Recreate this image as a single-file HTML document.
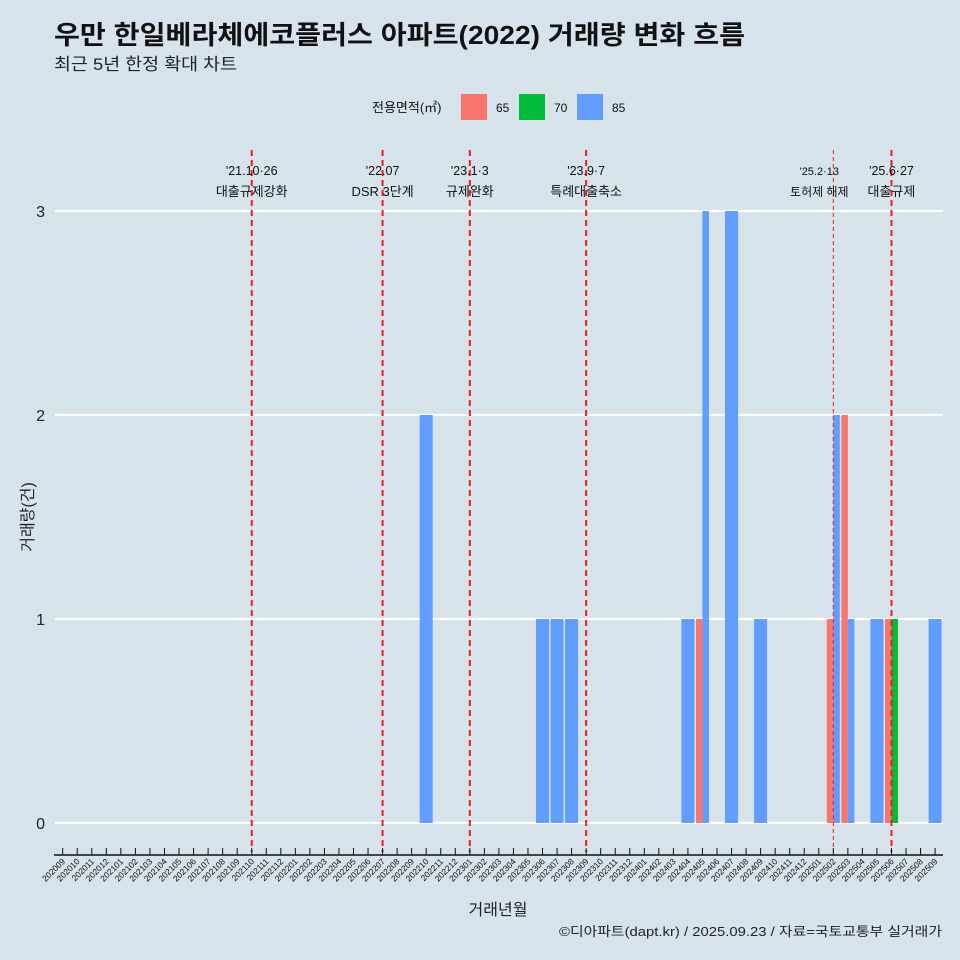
<!DOCTYPE html>
<html><head><meta charset="utf-8"><style>
body{margin:0;background:#d6e3ea;overflow:hidden;}
svg{display:block;}
svg text{font-family:"Liberation Sans","Noto Sans CJK KR",sans-serif;}
</style></head><body>
<svg id="chart" width="960" height="960" xmlns="http://www.w3.org/2000/svg">
<rect width="960" height="960" fill="#d6e3ea"/>
<text x="54" y="44" font-size="26" font-weight="bold" fill="#111" textLength="691" lengthAdjust="spacingAndGlyphs">우만 한일베라체에코플러스 아파트(2022) 거래량 변화 흐름</text>
<text x="54" y="70" font-size="17" fill="#222" textLength="183" lengthAdjust="spacingAndGlyphs">최근 5년 한정 확대 차트</text>
<g>
<text x="372" y="112" font-size="13" fill="#111">전용면적(㎡)</text>
<rect x="461" y="94" width="26" height="26" fill="#f8766d"/>
<text x="496" y="112" font-size="12" fill="#111">65</text>
<rect x="519" y="94" width="26" height="26" fill="#00ba38"/>
<text x="554" y="112" font-size="12" fill="#111">70</text>
<rect x="577" y="94" width="26" height="26" fill="#619cff"/>
<text x="612" y="112" font-size="12" fill="#111">85</text>
</g>
<g id="grid"></g><g id="bars"></g><g id="events"></g><g id="axis"></g>
<text x="0" y="0" transform="translate(33,517) rotate(-90)" text-anchor="middle" font-size="16" fill="#222">거래량(건)</text>
<text x="498" y="915" text-anchor="middle" font-size="16" fill="#222">거래년월</text>
<text x="559" y="936" font-size="13" fill="#222" textLength="383" lengthAdjust="spacingAndGlyphs">©디아파트(dapt.kr) / 2025.09.23 / 자료=국토교통부 실거래가</text>
</svg>
<script>
const months = [];
for (let y = 2020, m = 9; y * 100 + m <= 202509; m++) { if (m > 12) { m = 1; y++; } months.push(String(y * 100 + m)); }
const yTicks = [0, 1, 2, 3];
const series65 = {"202405":1,"202502":1,"202503":2,"202506":1};
const series70 = {"202506":1};
const series85 = {"202210":2,"202306":1,"202307":1,"202308":1,"202404":1,"202405":3,"202407":3,"202409":1,"202502":2,"202503":1,"202505":1,"202509":1};
const eventMonths = ["202110","202207","202301","202309","202502","202506"];
const eventLine1 = ["'21.10·26","'22.07","'23.1·3","'23.9·7","'25.2·13","'25.6·27"];
const eventLine2 = ["대출규제강화","DSR 3단계","규제완화","특례대출축소","토허제 해제","대출규제"];

const NS = "http://www.w3.org/2000/svg";
const x0 = 62.7, step = 14.54, yZero = 823, perUnit = 204;
const xs = m => x0 + months.indexOf(m) * step;
const ys = v => yZero - v * perUnit;
function mk(tag, attrs, parent) { const e = document.createElementNS(NS, tag); for (const k in attrs) e.setAttribute(k, attrs[k]); document.getElementById(parent).appendChild(e); return e; }

yTicks.forEach(t => {
  const l = mk("line", {x1:55, x2:943, y1:ys(t), y2:ys(t), stroke:"#fff", "stroke-width":2.2}, "grid");
  
  
  const tx = mk("text", {x:45, y:ys(t)+6, "text-anchor":"end", "font-size":16, fill:"#222"}, "grid");
  tx.textContent = t;
  
  
});

const bw = 13;
months.forEach(m => {
  const groups = [];
  if (series65[m]) groups.push([series65[m], "#f8766d", "65"]);
  if (series70[m]) groups.push([series70[m], "#00ba38", "70"]);
  if (series85[m]) groups.push([series85[m], "#619cff", "85"]);
  const w = bw / Math.max(groups.length, 1);
  groups.forEach((g, i) => {
    const left = xs(m) - bw / 2 + i * w;
    const r = mk("rect", {x:left, y:ys(g[0]), width:w, height:g[0]*perUnit, fill:g[1]}, "bars");
    
    
  });
});

eventMonths.forEach((m, i) => {
  const x = xs(m), thin = m === "202502";
  const l = mk("line", {x1:x, x2:x, y1:150, y2:852, stroke:"#ee1c1c", "stroke-width":thin?1:2, "stroke-dasharray":thin?"4,3":"6,4"}, "events");
  
  
  const fs = thin ? 11 : 12.5, dx = thin ? -14 : 0;
  const t1 = mk("text", {x:x+dx, y:175, "text-anchor":"middle", "font-size":fs, fill:"#111"}, "events");
  t1.textContent = eventLine1[i];
  
  
  const t2 = mk("text", {x:x+dx, y:196, "text-anchor":"middle", "font-size":thin?12:13, fill:"#111"}, "events");
  t2.textContent = eventLine2[i];
  
  
});

const ax = mk("line", {x1:54, x2:943, y1:855, y2:855, stroke:"#111", "stroke-width":1.5}, "axis");


months.forEach(m => {
  const x = xs(m);
  const tk = mk("line", {x1:x, x2:x, y1:848, y2:855, stroke:"#111", "stroke-width":1}, "axis");
  
  
  const t = mk("text", {x:0, y:0, transform:`translate(${x+3},${862}) rotate(-45)`, "text-anchor":"end", "font-size":8.5, fill:"#111"}, "axis");
  t.textContent = m;
  
  
});
</script>
</body></html>
